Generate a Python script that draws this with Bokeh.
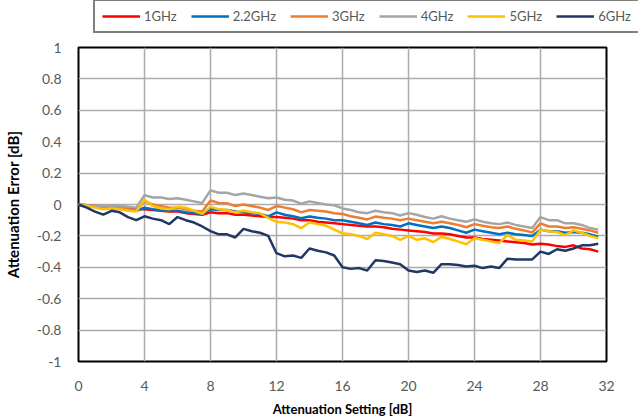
from bokeh.plotting import figure
from bokeh.models import Range1d, FixedTicker, Legend, LegendItem, CustomJSTickFormatter
from bokeh.embed import file_html
from bokeh.resources import INLINE

# ---------------- data ----------------
atten_db = [0, 0.5, 1, 1.5, 2, 2.5, 3, 3.5, 4, 4.5, 5, 5.5, 6, 6.5, 7, 7.5,
            8, 8.5, 9, 9.5, 10, 10.5, 11, 11.5, 12, 12.5, 13, 13.5, 14, 14.5, 15, 15.5,
            16, 16.5, 17, 17.5, 18, 18.5, 19, 19.5, 20, 20.5, 21, 21.5, 22, 22.5, 23, 23.5,
            24, 24.5, 25, 25.5, 26, 26.5, 27, 27.5, 28, 28.5, 29, 29.5, 30, 30.5, 31, 31.5]

err_1ghz = [0, -0.005, -0.01, -0.015, -0.015, -0.02, -0.025, -0.03,
            -0.03, -0.035, -0.04, -0.045, -0.045, -0.055, -0.06, -0.065,
            -0.05, -0.055, -0.055, -0.065, -0.065, -0.07, -0.075, -0.08,
            -0.08, -0.085, -0.09, -0.1, -0.1, -0.11, -0.115, -0.12,
            -0.125, -0.13, -0.135, -0.14, -0.14, -0.145, -0.155, -0.16,
            -0.165, -0.17, -0.175, -0.185, -0.185, -0.19, -0.2, -0.21,
            -0.21, -0.22, -0.225, -0.23, -0.235, -0.24, -0.245, -0.255,
            -0.25, -0.255, -0.265, -0.27, -0.26, -0.28, -0.285, -0.3]

err_2_2ghz = [0, -0.01, -0.015, -0.02, -0.02, -0.025, -0.03, -0.04,
              -0.02, -0.03, -0.035, -0.04, -0.04, -0.05, -0.055, -0.06,
              -0.03, -0.035, -0.035, -0.045, -0.05, -0.055, -0.06, -0.075,
              -0.05, -0.065, -0.075, -0.088, -0.077, -0.085, -0.09, -0.1,
              -0.1, -0.11, -0.12, -0.13, -0.115, -0.125, -0.13, -0.14,
              -0.12, -0.13, -0.14, -0.15, -0.14, -0.15, -0.165, -0.18,
              -0.16, -0.17, -0.18, -0.19, -0.18, -0.19, -0.195, -0.2,
              -0.16, -0.17, -0.17, -0.18, -0.175, -0.18, -0.19, -0.205]

err_3ghz = [0, -0.005, -0.01, -0.015, -0.015, -0.02, -0.03, -0.04,
            0.02, 0.0, -0.01, -0.02, -0.02, -0.03, -0.04, -0.045,
            0.025, 0.01, 0.008, -0.01, 0.0, -0.01, -0.02, -0.035,
            -0.01, -0.02, -0.03, -0.05, -0.035, -0.04, -0.045, -0.056,
            -0.06, -0.075, -0.085, -0.095, -0.077, -0.085, -0.09, -0.1,
            -0.09, -0.1, -0.11, -0.12, -0.11, -0.12, -0.13, -0.145,
            -0.125, -0.135, -0.145, -0.15, -0.14, -0.155, -0.165, -0.178,
            -0.12, -0.14, -0.14, -0.15, -0.145, -0.155, -0.165, -0.18]

err_4ghz = [0, -0.005, -0.01, -0.01, -0.005, -0.01, -0.015, -0.02,
            0.06, 0.045, 0.045, 0.035, 0.04, 0.03, 0.02, 0.01,
            0.09, 0.075, 0.075, 0.06, 0.07, 0.06, 0.05, 0.04,
            0.045, 0.03, 0.025, 0.005, 0.02, 0.01, 0.0, -0.005,
            -0.025, -0.035, -0.05, -0.055, -0.04, -0.05, -0.055, -0.07,
            -0.055, -0.065, -0.08, -0.09, -0.075, -0.09, -0.1, -0.11,
            -0.095, -0.11, -0.12, -0.125, -0.115, -0.13, -0.14, -0.15,
            -0.08, -0.1, -0.1, -0.12, -0.12, -0.13, -0.15, -0.16]

err_5ghz = [0, -0.01, -0.02, -0.03, -0.025, -0.03, -0.04, -0.045,
            0.03, -0.01, -0.025, -0.03, -0.015, -0.02, -0.04, -0.06,
            -0.015, -0.03, -0.035, -0.05, -0.04, -0.05, -0.056, -0.085,
            -0.11, -0.115, -0.125, -0.15, -0.115, -0.125, -0.135, -0.16,
            -0.183, -0.19, -0.2, -0.22, -0.18, -0.19, -0.2, -0.225,
            -0.2, -0.225, -0.215, -0.24, -0.205, -0.22, -0.235, -0.253,
            -0.215, -0.225, -0.235, -0.246, -0.195, -0.225, -0.23, -0.235,
            -0.16, -0.17, -0.175, -0.195, -0.165, -0.18, -0.2, -0.215]

err_6ghz = [0, -0.02, -0.045, -0.065, -0.04, -0.05, -0.08, -0.1,
            -0.075, -0.09, -0.1, -0.125, -0.08, -0.1, -0.115, -0.14,
            -0.17, -0.19, -0.19, -0.21, -0.155, -0.17, -0.18, -0.2,
            -0.31, -0.33, -0.325, -0.34, -0.28, -0.295, -0.305, -0.325,
            -0.4, -0.41, -0.405, -0.42, -0.355, -0.36, -0.37, -0.38,
            -0.42, -0.43, -0.42, -0.435, -0.38, -0.38, -0.385, -0.395,
            -0.39, -0.405, -0.395, -0.405, -0.345, -0.35, -0.35, -0.35,
            -0.3, -0.315, -0.285, -0.295, -0.28, -0.26, -0.26, -0.25]

series_names = ["1GHz", "2.2GHz", "3GHz", "4GHz", "5GHz", "6GHz"]
series_values = [err_1ghz, err_2_2ghz, err_3ghz, err_4ghz, err_5ghz, err_6ghz]
series_colors = ["#FF0000", "#0070C0", "#ED7D31", "#A5A5A5", "#FFC000", "#203864"]

x_ticks = [0, 4, 8, 12, 16, 20, 24, 28, 32]
y_ticks = [-1.0, -0.8, -0.6, -0.4, -0.2, 0.0, 0.2, 0.4, 0.6, 0.8, 1.0]

FONT = "Lato"
LEG_H = 40

# ---------------- main chart ----------------
p = figure(width=638, height=419 - LEG_H, output_backend="svg", toolbar_location=None,
           x_range=Range1d(0, 32), y_range=Range1d(-1, 1),
           min_border_left=77, min_border_right=32, min_border_top=47 - LEG_H,
           min_border_bottom=57)
p.background_fill_color = "white"
p.border_fill_color = "white"
p.outline_line_color = "black"
p.outline_line_width = 2

p.xaxis.ticker = FixedTicker(ticks=x_ticks)
p.yaxis.ticker = FixedTicker(ticks=y_ticks)
p.yaxis.formatter = CustomJSTickFormatter(code="return String(Math.round(tick*10)/10 + 0);")

for ax in (p.xaxis[0], p.yaxis[0]):
    ax.axis_line_color = None
    ax.major_tick_line_color = None
    ax.minor_tick_line_color = None
    ax.major_label_text_font = FONT
    ax.major_label_text_font_size = "14px"
    ax.major_label_text_color = "#595959"
    ax.axis_label_text_font = FONT
    ax.axis_label_text_font_style = "bold"
    ax.axis_label_text_color = "#000000"

p.xaxis.axis_label = "Attenuation Setting [dB]"
p.yaxis.axis_label = "Attenuation Error [dB]"
p.xaxis.axis_label_text_font_size = "13px"
p.yaxis.axis_label_text_font_size = "15px"
p.xaxis.major_label_standoff = 13
p.yaxis.major_label_standoff = 11
p.xaxis.axis_label_standoff = 7
p.yaxis.axis_label_standoff = 12

p.xgrid.grid_line_color = "#ABABAB"
p.ygrid.grid_line_color = "#ABABAB"
p.xgrid.grid_line_width = 1.5
p.ygrid.grid_line_width = 1.5

for name, vals, col in zip(series_names, series_values, series_colors):
    p.line(atten_db, vals, line_color=col, line_width=2.5)

# ---------------- legend strip (separate root, full-width frame) ----------------
lg = figure(width=638, height=LEG_H, output_backend="svg", toolbar_location=None,
            x_range=Range1d(0, 1), y_range=Range1d(0, 1),
            x_axis_type=None, y_axis_type=None,
            min_border_left=0, min_border_right=0, min_border_top=0, min_border_bottom=0)
lg.outline_line_color = None
lg.background_fill_color = "white"
lg.border_fill_color = "white"
lg.xgrid.visible = False
lg.ygrid.visible = False

items = []
for name, col in zip(series_names, series_colors):
    # off-screen sample so that the legend has a line glyph to draw
    r = lg.line(x=[-5, -4], y=[-5, -4], line_color=col, line_width=2.5)
    items.append(LegendItem(label=name, renderers=[r]))

legend = Legend(items=items, orientation="horizontal", location=(93, 7))
legend.border_line_color = "black"
legend.border_line_width = 2
legend.background_fill_color = "white"
legend.background_fill_alpha = 1
legend.label_text_font = FONT
legend.label_text_font_size = "13px"
legend.label_text_color = "#595959"
legend.glyph_width = 38
legend.glyph_height = 16
legend.label_height = 16
legend.label_standoff = 4
legend.spacing = 14
legend.padding = 7
legend.margin = 0
lg.add_layout(legend, "center")

open("out.html", "w").write(file_html([lg, p], INLINE))
